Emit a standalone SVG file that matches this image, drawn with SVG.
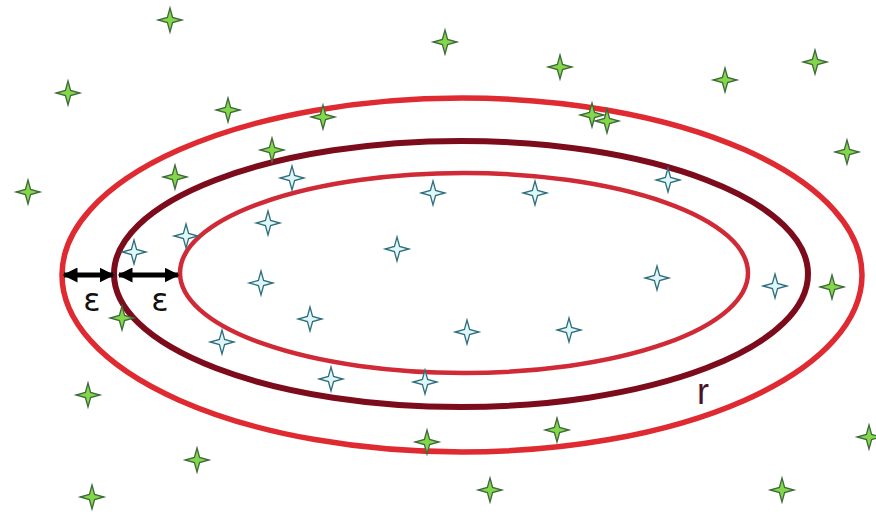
<svg xmlns="http://www.w3.org/2000/svg" width="876" height="517" viewBox="0 0 876 517">
<style>
.ring{fill:none}
.outer{stroke:#de2a30;stroke-width:5.5}
.mid{stroke:#7c0c1c;stroke-width:6}
.inner{stroke:#cf2a36;stroke-width:4.5}
.g{fill:#84d64a;stroke:#3d6b3a;stroke-width:1.3}
.b{fill:#dff6fa;stroke:#2f6f7c;stroke-width:1.3}
.arr{stroke:#000;stroke-width:5;marker-start:url(#ah);marker-end:url(#ah)}
.lbl{font-family:"DejaVu Sans","Liberation Sans",sans-serif;fill:#111;font-size:32px;text-anchor:middle}
.rl{font-family:"Liberation Sans","DejaVu Sans",sans-serif;fill:#4a1424;font-size:36px;text-anchor:middle}
</style>
<defs>
<path id="star" d="M0,-12 L2.6,-2.6 L12,0 L2.6,2.6 L0,12 L-2.6,2.6 L-12,0 L-2.6,-2.6 Z"/>
<marker id="ah" viewBox="0 0 10 10" refX="9" refY="5" markerWidth="3" markerHeight="3" orient="auto-start-reverse">
<path d="M0,0 L10,5 L0,10 Z" fill="#000"/>
</marker>
</defs>
<g id="outer-region"><ellipse class="ring outer" cx="462" cy="275" rx="400" ry="177"/></g>
<g id="r-boundary"><ellipse class="ring mid" cx="461" cy="274" rx="347" ry="133"/></g>
<g id="inner-region"><ellipse class="ring inner" cx="464" cy="273" rx="284" ry="100"/></g>
<g id="connectors">
<line class="arr" x1="64" y1="275" x2="113" y2="275"/>
<line class="arr" x1="119" y1="275" x2="178" y2="275"/>
</g>
<g id="labels">
<text class="lbl" x="92" y="311">ε</text>
<text class="lbl" x="160" y="311">ε</text>
<text class="rl" x="703" y="404">r</text>
</g>
<g id="green-points">
<use href="#star" class="g" x="170" y="20"/>
<use href="#star" class="g" x="68" y="93"/>
<use href="#star" class="g" x="445" y="42"/>
<use href="#star" class="g" x="560" y="67"/>
<use href="#star" class="g" x="725" y="80"/>
<use href="#star" class="g" x="815" y="62"/>
<use href="#star" class="g" x="228" y="110"/>
<use href="#star" class="g" x="323" y="117"/>
<use href="#star" class="g" x="592" y="115"/>
<use href="#star" class="g" x="607" y="121"/>
<use href="#star" class="g" x="272" y="150"/>
<use href="#star" class="g" x="847" y="152"/>
<use href="#star" class="g" x="28" y="192"/>
<use href="#star" class="g" x="175" y="177"/>
<use href="#star" class="g" x="832" y="287"/>
<use href="#star" class="g" x="122" y="318"/>
<use href="#star" class="g" x="88" y="395"/>
<use href="#star" class="g" x="197" y="460"/>
<use href="#star" class="g" x="427" y="442"/>
<use href="#star" class="g" x="557" y="430"/>
<use href="#star" class="g" x="869" y="437"/>
<use href="#star" class="g" x="92" y="497"/>
<use href="#star" class="g" x="490" y="490"/>
<use href="#star" class="g" x="782" y="490"/>
</g>
<g id="blue-points">
<use href="#star" class="b" x="292" y="178"/>
<use href="#star" class="b" x="433" y="193"/>
<use href="#star" class="b" x="535" y="193"/>
<use href="#star" class="b" x="668" y="180"/>
<use href="#star" class="b" x="268" y="223"/>
<use href="#star" class="b" x="186" y="236"/>
<use href="#star" class="b" x="134" y="252"/>
<use href="#star" class="b" x="397" y="249"/>
<use href="#star" class="b" x="261" y="283"/>
<use href="#star" class="b" x="657" y="278"/>
<use href="#star" class="b" x="775" y="286"/>
<use href="#star" class="b" x="310" y="319"/>
<use href="#star" class="b" x="467" y="332"/>
<use href="#star" class="b" x="569" y="330"/>
<use href="#star" class="b" x="222" y="342"/>
<use href="#star" class="b" x="331" y="379"/>
<use href="#star" class="b" x="425" y="382"/>
</g>
</svg>
